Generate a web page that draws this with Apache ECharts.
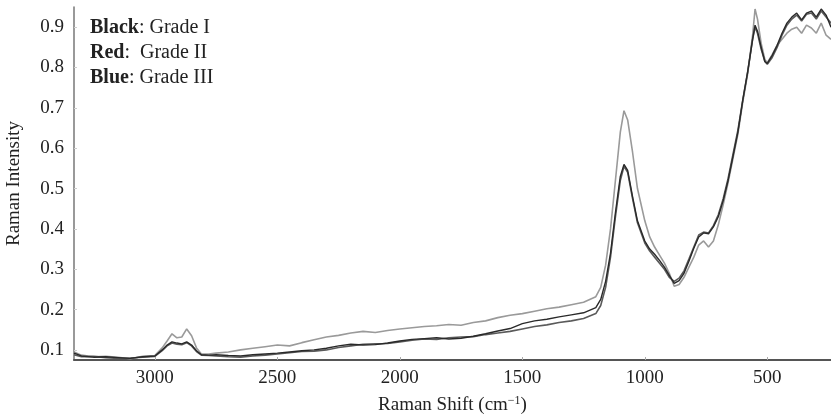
<!DOCTYPE html>
<html>
<head>
<meta charset="utf-8">
<script src="https://cdn.jsdelivr.net/npm/echarts@6/dist/echarts.min.js"></script>
<style>
html,body{margin:0;padding:0;background:#fff;}
#chart{width:831px;height:419px;}
</style>
</head>
<body>
<div id="chart"></div>
<script>
// Raman shift (cm^-1)
const shift = [3330,3300,3250,3200,3150,3100,3050,3000,2970,2950,2930,2910,2890,2870,2850,2830,2810,2780,2750,2700,2650,2600,2550,2500,2450,2400,2350,2300,2250,2200,2150,2100,2050,2000,1950,1900,1850,1800,1750,1700,1650,1600,1550,1500,1450,1400,1350,1300,1250,1200,1180,1160,1140,1120,1100,1085,1070,1050,1030,1000,980,960,940,920,900,880,860,840,820,800,780,760,740,720,700,680,660,640,620,600,580,560,550,540,525,510,500,480,460,440,420,400,380,360,340,320,300,280,260,240];
// Grade I (black)
const gradeI = [0.092,0.085,0.082,0.083,0.081,0.079,0.083,0.085,0.100,0.112,0.120,0.117,0.115,0.120,0.112,0.098,0.088,0.087,0.088,0.086,0.085,0.088,0.090,0.092,0.095,0.098,0.100,0.104,0.110,0.114,0.112,0.113,0.117,0.122,0.126,0.128,0.130,0.127,0.129,0.134,0.140,0.147,0.153,0.165,0.172,0.176,0.182,0.187,0.192,0.205,0.225,0.270,0.340,0.440,0.530,0.560,0.545,0.480,0.420,0.370,0.350,0.337,0.322,0.305,0.285,0.265,0.272,0.290,0.320,0.352,0.380,0.390,0.388,0.405,0.430,0.470,0.520,0.580,0.640,0.720,0.790,0.870,0.905,0.890,0.850,0.815,0.810,0.830,0.855,0.885,0.910,0.925,0.935,0.918,0.935,0.940,0.925,0.945,0.930,0.900];
// Grade II (dark grey)
const gradeII = [0.088,0.083,0.084,0.081,0.079,0.080,0.082,0.084,0.098,0.110,0.117,0.114,0.113,0.118,0.110,0.096,0.087,0.086,0.085,0.083,0.082,0.085,0.087,0.090,0.093,0.096,0.097,0.100,0.106,0.110,0.114,0.115,0.116,0.120,0.124,0.127,0.126,0.130,0.132,0.133,0.138,0.142,0.146,0.152,0.158,0.162,0.168,0.172,0.178,0.190,0.210,0.255,0.330,0.430,0.520,0.555,0.540,0.475,0.415,0.365,0.345,0.330,0.315,0.300,0.280,0.270,0.278,0.296,0.325,0.355,0.385,0.392,0.390,0.408,0.435,0.475,0.525,0.585,0.645,0.720,0.790,0.870,0.900,0.885,0.845,0.815,0.808,0.825,0.850,0.880,0.905,0.920,0.930,0.915,0.932,0.935,0.920,0.940,0.925,0.910];
// Grade III (light grey)
const gradeIII = [0.095,0.087,0.083,0.084,0.082,0.078,0.084,0.086,0.105,0.122,0.140,0.130,0.132,0.152,0.135,0.105,0.090,0.090,0.092,0.095,0.100,0.104,0.108,0.112,0.110,0.118,0.125,0.132,0.136,0.142,0.146,0.143,0.148,0.152,0.155,0.158,0.160,0.163,0.161,0.168,0.172,0.180,0.186,0.190,0.196,0.202,0.206,0.212,0.218,0.232,0.255,0.310,0.400,0.520,0.640,0.693,0.670,0.590,0.500,0.420,0.380,0.355,0.335,0.315,0.290,0.258,0.262,0.280,0.305,0.330,0.360,0.370,0.355,0.370,0.410,0.460,0.515,0.575,0.635,0.715,0.785,0.880,0.945,0.920,0.860,0.820,0.812,0.832,0.855,0.870,0.885,0.895,0.900,0.885,0.905,0.898,0.885,0.910,0.880,0.870];
const xTickLabels = [500,1000,1500,2000,2500,3000];
const yTickLabels = [0.1,0.2,0.3,0.4,0.5,0.6,0.7,0.8,0.9];

const FONT = "'Liberation Serif', serif";
const pair = arr => shift.map((s, i) => [s, arr[i]]);

const chart = echarts.init(document.getElementById('chart'), null, {renderer: 'canvas'});
chart.setOption({
  animation: false,
  backgroundColor: '#fff',
  grid: {left: 74, right: 0, top: 7, bottom: 59, containLabel: false, outerBoundsMode: 'none'},
  xAxis: {
    type: 'value', inverse: true, min: 240, max: 3330,
    name: 'Raman Shift (cm{sup|\u22121})',
    nameLocation: 'middle', nameGap: 35,
    nameTextStyle: {fontFamily: FONT, fontSize: 19, color: '#222',
      rich: {sup: {fontFamily: FONT, fontSize: 12, color: '#222', verticalAlign: 'top', padding: [0,0,8,0]}}},
    axisLine: {show: true, onZero: false, lineStyle: {color: '#555', width: 2}},
    axisTick: {show: true, inside: true, length: 3, lineStyle: {color: '#aaa'}, customValues: xTickLabels},
    minorTick: {show: false},
    axisLabel: {fontFamily: FONT, fontSize: 19, color: '#222', margin: 9, customValues: xTickLabels,
      formatter: v => String(Math.round(v))},
    splitLine: {show: false}
  },
  yAxis: {
    type: 'value', min: 0.075, max: 0.95,
    name: 'Raman Intensity', nameLocation: 'middle', nameGap: 50,
    nameTextStyle: {fontFamily: FONT, fontSize: 19, color: '#222'},
    axisLine: {show: true, lineStyle: {color: '#777', width: 1.5}},
    axisTick: {show: true, inside: true, length: 3, lineStyle: {color: '#ccc'}, customValues: yTickLabels},
    axisLabel: {fontFamily: FONT, fontSize: 19, color: '#222', margin: 10, customValues: yTickLabels,
      formatter: v => v.toFixed(1)},
    splitLine: {show: false}
  },
  graphic: [
    {type: 'text', left: 90, top: 18, style: {text: '{b|Black}: Grade I', font: '20px ' + FONT, fill: '#222',
      rich: {b: {fontFamily: FONT, fontSize: 20, fontWeight: 'bold', fill: '#222'}}}},
    {type: 'text', left: 90, top: 43, style: {text: '{b|Red}:  Grade II', font: '20px ' + FONT, fill: '#222',
      rich: {b: {fontFamily: FONT, fontSize: 20, fontWeight: 'bold', fill: '#222'}}}},
    {type: 'text', left: 90, top: 68, style: {text: '{b|Blue}: Grade III', font: '20px ' + FONT, fill: '#222',
      rich: {b: {fontFamily: FONT, fontSize: 20, fontWeight: 'bold', fill: '#222'}}}}
  ],
  series: [
    {name: 'Grade III', type: 'line', data: pair(gradeIII), showSymbol: false, lineStyle: {color: '#9a9a9a', width: 1.6}},
    {name: 'Grade II', type: 'line', data: pair(gradeII), showSymbol: false, lineStyle: {color: '#5a5a5a', width: 1.6}},
    {name: 'Grade I', type: 'line', data: pair(gradeI), showSymbol: false, lineStyle: {color: '#2a2a2a', width: 1.4}}
  ]
});
</script>
</body>
</html>
